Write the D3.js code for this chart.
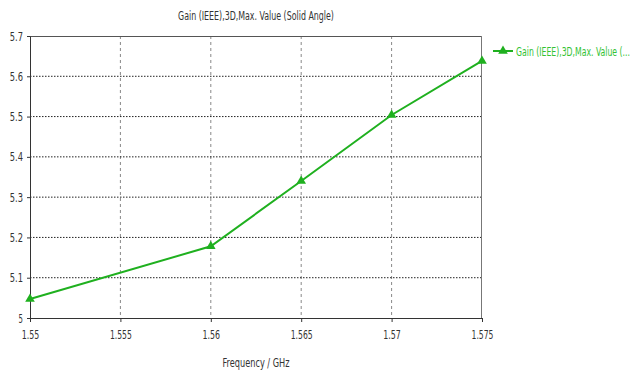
<!DOCTYPE html>
<html>
<head>
	<script src="https://d3js.org/d3.v7.min.js"></script>
	<style>
		body { margin: 0; background: #fff; }
		svg text { font-family: 'DejaVu Sans', sans-serif; font-stretch: condensed; }
		.axis text { font-size: 12.5px; fill: #333; }
		.axis path, .axis line { stroke: #333; }
	</style>
</head>
<body>
<div id="chart"></div>
<script>
	// Data.
	const frequencies = [1.55, 1.56, 1.565, 1.57, 1.575];
	const gains = [5.047, 5.178, 5.34, 5.504, 5.638];
	const xTicks = [1.55, 1.555, 1.56, 1.565, 1.57, 1.575];
	const yTicks = [5, 5.1, 5.2, 5.3, 5.4, 5.5, 5.6, 5.7];
	const seriesName = 'Gain (IEEE),3D,Max. Value (...';
	const title = 'Gain (IEEE),3D,Max. Value (Solid Angle)';

	const margin = {top: 36, right: 156, bottom: 52, left: 30};
	const W = 638, H = 370;
	const width = W - margin.left - margin.right;
	const height = H - margin.top - margin.bottom;
	const green = '#1fb01f';

	const svg = d3.select('#chart').append('svg')
		.attr('width', W).attr('height', H);
	const g = svg.append('g')
		.attr('transform', 'translate(' + margin.left + ',' + margin.top + ')');

	const x = d3.scaleLinear().domain([1.55, 1.575]).range([0, width]);
	const y = d3.scaleLinear().domain([5, 5.7]).range([height, 0]);

	// Squeeze a text horizontally so it fits the narrow look of the original.
	function squeeze(sel, target) {
		const len = sel.node().getComputedTextLength();
		const k = target / len;
		const tx = +sel.attr('x'), ty = +sel.attr('y');
		sel.attr('x', 0).attr('y', 0)
			.attr('transform', 'translate(' + tx + ',' + ty + ') scale(' + k + ',1)');
	}

	// Vertical dashed gridlines.
	g.append('g').selectAll('line')
		.data(xTicks.slice(1, -1))
		.join('line')
		.attr('x1', d => x(d)).attr('x2', d => x(d))
		.attr('y1', 0).attr('y2', height)
		.attr('stroke', '#888').attr('stroke-dasharray', '3,3');

	// Horizontal dotted gridlines.
	g.append('g').selectAll('line')
		.data(yTicks.slice(1, -1))
		.join('line')
		.attr('x1', 0).attr('x2', width)
		.attr('y1', d => y(d)).attr('y2', d => y(d))
		.attr('stroke', '#222').attr('stroke-dasharray', '1.5,1.5');

	// Top and right frame.
	g.append('line').attr('x1', 0).attr('x2', width).attr('y1', 0.5).attr('y2', 0.5)
		.attr('stroke', '#555');
	g.append('line').attr('x1', width - 0.5).attr('x2', width - 0.5).attr('y1', 0).attr('y2', height)
		.attr('stroke', '#777');

	// Axes.
	const fmt = d3.format('');
	g.append('g')
		.attr('class', 'axis')
		.attr('transform', 'translate(0,' + height + ')')
		.call(d3.axisBottom(x).tickValues(xTicks).tickSize(4).tickSizeOuter(0).tickFormat(fmt))
		.call(a => a.selectAll('text').attr('dy', '1.15em')
			.attr('textLength', d => fmt(d).length * 4.4).attr('lengthAdjust', 'spacingAndGlyphs'));
	g.append('g')
		.attr('class', 'axis')
		.call(d3.axisLeft(y).tickValues(yTicks).tickSize(3).tickSizeOuter(0).tickFormat(fmt))
		.call(a => a.selectAll('text').attr('x', -7)
			.attr('textLength', d => fmt(d).length * 4.4).attr('lengthAdjust', 'spacingAndGlyphs'));

	// Series line.
	const pts = frequencies.map((f, i) => [f, gains[i]]);
	g.append('path')
		.datum(pts)
		.attr('fill', 'none')
		.attr('stroke', green)
		.attr('stroke-width', 2)
		.attr('d', d3.line().x(d => x(d[0])).y(d => y(d[1])));

	const tri = d3.symbol().type(d3.symbolTriangle).size(40);
	g.append('g').selectAll('path')
		.data(pts)
		.join('path')
		.attr('transform', d => 'translate(' + x(d[0]) + ',' + y(d[1]) + ')')
		.attr('d', tri)
		.attr('fill', green);

	// Title and axis label.
	svg.append('text')
		.attr('x', margin.left + width / 2).attr('y', 20)
		.attr('text-anchor', 'middle')
		.attr('font-size', 13).attr('fill', '#333')
		.text(title)
		.call(squeeze, 156);
	svg.append('text')
		.attr('x', margin.left + width / 2).attr('y', 367)
		.attr('text-anchor', 'middle')
		.attr('font-size', 13).attr('fill', '#333')
		.text('Frequency / GHz')
		.call(squeeze, 67);

	// Legend.
	const lg = svg.append('g').attr('transform', 'translate(493,51)');
	lg.append('line').attr('x1', 0).attr('x2', 20).attr('stroke', green).attr('stroke-width', 2);
	lg.append('path').attr('transform', 'translate(10,0)').attr('d', tri).attr('fill', green);
	lg.append('text').attr('x', 23).attr('y', 4.5)
		.attr('font-size', 13).attr('fill', '#33c233')
		.text(seriesName)
		.call(squeeze, 114);
</script>
</body>
</html>
